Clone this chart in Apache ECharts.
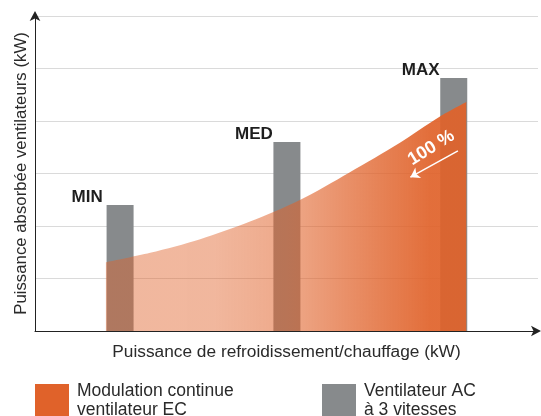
<!DOCTYPE html>
<html><head><meta charset="utf-8">
<script src="https://cdn.jsdelivr.net/npm/echarts@6/dist/echarts.min.js"></script>
<style>html,body{margin:0;padding:0;background:#fff}#c{width:541px;height:416px}</style>
</head><body><div id="c"></div>
<script>
// Fan speed levels (AC fan, 3 speeds)
const levelNames = ['MIN', 'MED', 'MAX'];
const levelX = [1.02, 3.02, 5.02];
const levelPower = [2.4, 3.6, 4.82];
// Continuous EC modulation curve
const curveX = [0.85, 1.38, 1.98, 2.57, 3.17, 3.77, 4.37, 4.85, 5.17];
const curveY = [1.31, 1.49, 1.75, 2.08, 2.49, 3.02, 3.58, 4.08, 4.36];
// Annotation
const arrowFrom = [5.07, 3.43];
const arrowTo = [4.50, 2.93];
const pctPos = [4.75, 3.49];
const pctText = '100 %';
const xTitle = 'Puissance de refroidissement/chauffage (kW)';
const yTitle = 'Puissance absorbée ventilateurs (kW)';
const legendEC = 'Modulation continue\nventilateur EC';
const legendAC = 'Ventilateur AC\nà 3 vitesses';

const FONT = "'Liberation Sans', Arial, sans-serif";
const ORANGE = 'rgb(224,98,42)';
const GRAY = '#878a8c';

const chart = echarts.init(document.getElementById('c'), null, {renderer: 'canvas'});
const barData = levelNames.map((n, i) => ({name: n, value: [levelX[i], levelPower[i]]}));
const curveData = curveX.map((x, i) => [x, curveY[i]]);

const o = a => `rgba(224,98,42,${a})`;
chart.setOption({
  animation: false,
  textStyle: {fontFamily: FONT},
  grid: {left: 35, right: 3, top: 16, bottom: 85},
  xAxis: {
    type: 'value', min: 0, max: 6.03,
    axisLine: {show: true, lineStyle: {color: '#222', width: 1}, symbol: ['none', 'arrow'], symbolSize: [8, 10], symbolOffset: [0, 3]},
    axisTick: {show: false}, axisLabel: {show: false}, splitLine: {show: false},
    name: xTitle, nameLocation: 'middle', nameGap: 13,
    nameTextStyle: {fontFamily: FONT, fontSize: 17.3, color: '#2a2a2a'}
  },
  yAxis: {
    type: 'value', min: 0, max: 6, interval: 1,
    axisLine: {show: true, lineStyle: {color: '#222', width: 1}, symbol: ['none', 'arrow'], symbolSize: [8, 10], symbolOffset: [0, 5]},
    axisTick: {show: false}, axisLabel: {show: false},
    splitLine: {show: true, lineStyle: {color: '#dadada', width: 1.2}},
    name: yTitle, nameLocation: 'middle', nameGap: 5, nameRotate: 90,
    nameTextStyle: {fontFamily: FONT, fontSize: 16.8, color: '#2a2a2a'}
  },
  legend: [
    {left: 35, top: 382, padding: 0, itemWidth: 34, itemHeight: 34, icon: 'rect',
     textStyle: {fontFamily: FONT, fontSize: 17.5, lineHeight: 19, color: '#2a2a2a', padding: [0, 0, 0, 3]},
     data: [{name: legendEC, itemStyle: {color: ORANGE}}]},
    {left: 322, top: 382, padding: 0, itemWidth: 34, itemHeight: 34, icon: 'rect',
     textStyle: {fontFamily: FONT, fontSize: 17.5, lineHeight: 19, color: '#2a2a2a', padding: [0, 0, 0, 3]},
     data: [{name: legendAC, itemStyle: {color: GRAY}}]}
  ],
  series: [
    {
      name: legendAC, type: 'bar', barWidth: 27, z: 2,
      itemStyle: {color: GRAY},
      data: barData,
      label: {show: true, position: 'top', distance: 0, offset: [-33, 1], formatter: p => p.name,
        fontFamily: FONT, fontWeight: 'bold', fontSize: 17, color: '#1e1e1e'}
    },
    {
      name: legendEC, type: 'line', smooth: 0.3, symbol: 'none', z: 3,
      itemStyle: {color: ORANGE},
      lineStyle: {width: 0},
      areaStyle: {opacity: 1, color: new echarts.graphic.LinearGradient(0, 0, 1, 0, [
        {offset: 0, color: o(0.45)}, {offset: 0.3, color: o(0.46)}, {offset: 0.5, color: o(0.55)},
        {offset: 0.65, color: o(0.69)}, {offset: 0.8, color: o(0.83)}, {offset: 0.9, color: o(0.92)},
        {offset: 1, color: o(0.92)}])},
      data: curveData,
      markLine: {
        silent: true, symbol: ['none', 'arrow'], symbolSize: 9,
        lineStyle: {color: '#fff', width: 1.5, type: 'solid'}, label: {show: false},
        data: [[{coord: arrowFrom}, {coord: arrowTo}]]
      },
      markPoint: {
        silent: true, symbol: 'circle', symbolSize: 0,
        label: {show: true, position: 'inside', formatter: pctText, rotate: 32, color: '#fff',
          fontFamily: FONT, fontWeight: 'bold', fontSize: 18},
        data: [{coord: pctPos}]
      }
    }
  ]
});
</script></body></html>
